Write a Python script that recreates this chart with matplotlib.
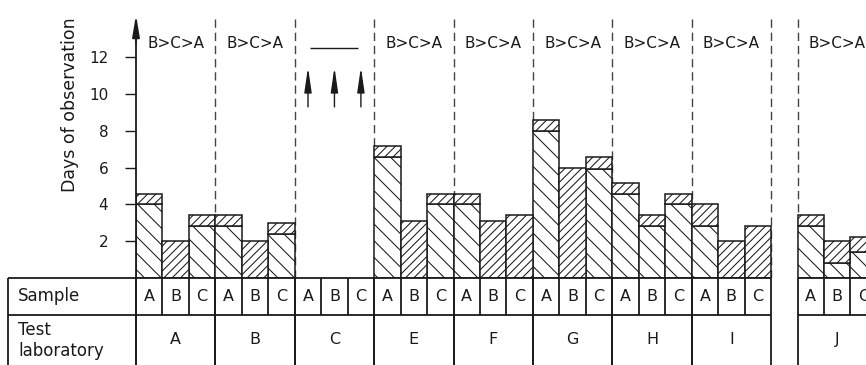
import matplotlib
matplotlib.use("Agg")
import matplotlib.pyplot as plt
import numpy as np

# ---- data (days of observation) ----
labs = ["A", "B", "C", "E", "F", "G", "H", "I", "J"]
samples = ["A", "B", "C"]
gap_before = {"J": 1}          # empty slot before lab J
# lower part of each bar ("\\" hatch) and upper part ("//" hatch)
lower = [[4.0, 0.0, 2.8],
         [2.8, 0.0, 2.4],
         [0.0, 0.0, 0.0],
         [6.55, 0.0, 4.0],
         [4.0, 0.0, 0.0],
         [8.0, 0.0, 5.95],
         [4.55, 2.8, 4.0],
         [2.8, 0.0, 0.0],
         [2.8, 0.8, 1.4]]
upper = [[0.55, 2.0, 0.6],
         [0.6, 2.0, 0.6],
         [0.0, 0.0, 0.0],
         [0.6, 3.1, 0.55],
         [0.55, 3.1, 3.4],
         [0.6, 6.0, 0.6],
         [0.6, 0.6, 0.55],
         [1.2, 2.0, 2.8],
         [0.6, 1.2, 0.85]]
ranking = ["B>C>A", "B>C>A", None, "B>C>A", "B>C>A",
           "B>C>A", "B>C>A", "B>C>A", "B>C>A"]
off_scale = ["C"]               # labs whose results run beyond the scale
yticks = [2, 4, 6, 8, 10, 12]

# ---- layout ----
W, H = 866, 365
PX_X, PX_Y = 26.46, 18.4        # pixels per slot / per day
X0, Y0 = 136, 87                # axis origin in pixels (from left / bottom)
Y_TOP = 14.3
ROW1 = -2.0
TAB_BOT = -Y0 / PX_Y
TAB_LEFT = -4.84
INK = "#1a1a1a"

plt.rcParams["hatch.linewidth"] = 0.75
plt.rcParams["font.family"] = ["DejaVu Sans"]

fig = plt.figure(figsize=(W / 100, H / 100), dpi=100)
ax = fig.add_axes([X0 / W, Y0 / H, (W - X0) / W, (H - Y0) / H])
ax.set_xlim(0, (W - X0) / PX_X)
ax.set_ylim(0, (H - Y0) / PX_Y)
for s in ax.spines.values():
    s.set_visible(False)

# slot start of each lab
starts = []
pos = 0
for lab in labs:
    pos += gap_before.get(lab, 0)
    starts.append(pos)
    pos += len(samples)

xs, lo, up = [], [], []
for i, st in enumerate(starts):
    for j in range(len(samples)):
        xs.append(st + j)
        lo.append(lower[i][j])
        up.append(upper[i][j])
xs, lo, up = np.array(xs), np.array(lo), np.array(up)

m = lo > 0
ax.bar(xs[m], lo[m], width=1, align="edge", facecolor="white",
       edgecolor=INK, lw=1.1, hatch="\\\\", zorder=2)
m = up > 0
ax.bar(xs[m], up[m], bottom=lo[m], width=1, align="edge", facecolor="white",
       edgecolor=INK, lw=1.1, hatch="////", zorder=2)

# dashed group separators
bounds = sorted(set([st for st in starts[1:]] + [st + 3 for st in starts[:-1]]))
ax.vlines(bounds, 0, Y_TOP - 0.1, colors="#444444", lw=1.0,
          linestyles=(0, (6, 3.5)), zorder=1)

# rank text and off-scale marks
for i, lab in enumerate(labs):
    cx = starts[i] + 1.5
    if ranking[i]:
        ax.text(cx, 12.75, ranking[i], ha="center", va="center",
                fontsize=11, color=INK)
    if lab in off_scale:
        ax.hlines(12.5, starts[i] + 0.58, starts[i] + 2.4, colors=INK, lw=1.0)
        for j in range(len(samples)):
            ax.annotate("", xy=(starts[i] + j + 0.5, 11.45),
                        xytext=(starts[i] + j + 0.5, 9.3),
                        arrowprops=dict(arrowstyle="-|>,head_length=1.5,head_width=0.22",
                                        color=INK, lw=1.0, mutation_scale=10,
                                        shrinkA=0, shrinkB=0))

# y axis with arrow
ax.plot([0, 0], [TAB_BOT, Y_TOP - 1], color=INK, lw=1.3, clip_on=False, zorder=3)
ax.annotate("", xy=(0, Y_TOP), xytext=(0, Y_TOP - 1.5),
            arrowprops=dict(arrowstyle="-|>,head_length=1.3,head_width=0.22",
                            color=INK, lw=1.3, mutation_scale=10,
                            shrinkA=0, shrinkB=0), annotation_clip=False)
ax.set_yticks(yticks)
ax.set_yticklabels([str(t) for t in yticks], fontsize=11, color=INK)
ax.tick_params(axis="y", length=8, width=1, color=INK, pad=12)
ax.set_xticks([])
ax.text((70 - X0) / PX_X, 9.4, "Days of observation", rotation=90,
        ha="center", va="center", fontsize=12.5, color=INK, clip_on=False)

# table under the bars
right_main = starts[-2] + 3
segs = [(TAB_LEFT, right_main), (starts[-1], starts[-1] + 3)]
for a, b in segs:
    ax.hlines([0, ROW1], a, b, colors=INK, lw=1.3, clip_on=False)
ax.vlines(TAB_LEFT, TAB_BOT, 0, colors=INK, lw=1.3, clip_on=False)
for i, st in enumerate(starts):
    ax.vlines([st + k for k in range(1, 3)], ROW1, 0, colors=INK, lw=1.3, clip_on=False)
    ax.vlines([st, st + 3], TAB_BOT, 0, colors=INK, lw=1.3, clip_on=False)
    for j, s in enumerate(samples):
        ax.text(st + j + 0.5, ROW1 / 2, s, ha="center", va="center",
                fontsize=11.5, color=INK, clip_on=False)
    ax.text(st + 1.5, (ROW1 + TAB_BOT) / 2 + 0.0, labs[i], ha="center", va="center",
            fontsize=11.5, color=INK, clip_on=False)
ax.text(TAB_LEFT + 0.38, ROW1 / 2, "Sample", ha="left", va="center",
        fontsize=12, color=INK, clip_on=False)
ax.text(TAB_LEFT + 0.38, (ROW1 + TAB_BOT) / 2 - 0.05, "Test\nlaboratory", ha="left",
        va="center", fontsize=12, color=INK, linespacing=1.2, clip_on=False)

fig.savefig("out.png", dpi=100, facecolor="white")
